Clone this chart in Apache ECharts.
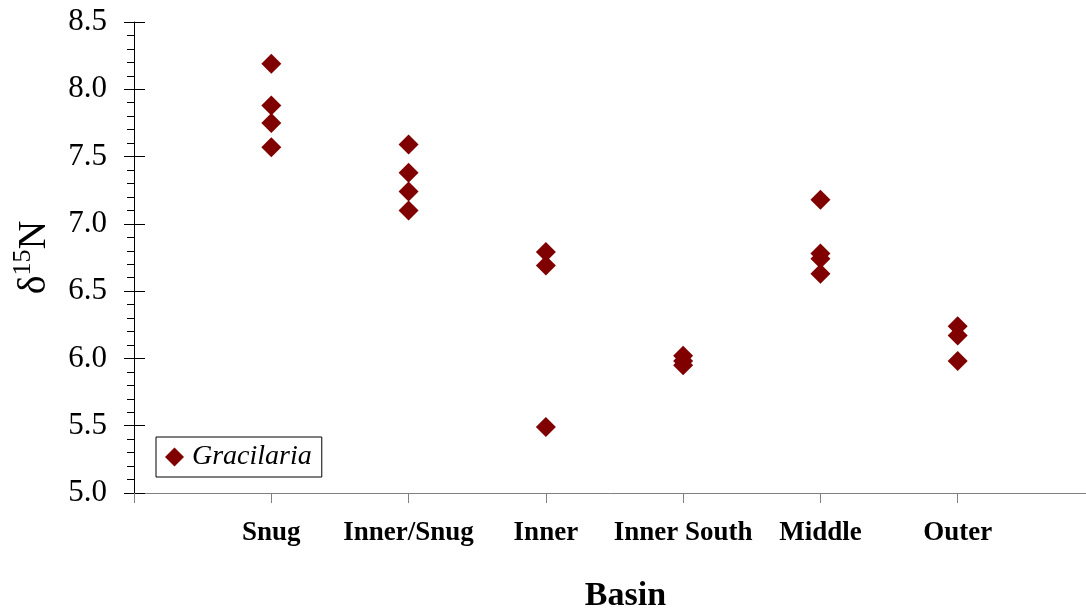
<!DOCTYPE html>
<html>
<head>
<meta charset="utf-8">
<title>d15N by basin</title>
<script src="https://cdn.jsdelivr.net/npm/echarts@6/dist/echarts.min.js"></script>
<style>
  html, body { margin: 0; padding: 0; background: #fff; }
  #main { width: 1086px; height: 612px; }
</style>
</head>
<body>
<div id="main"></div>
<script>
// basins on the x axis (positions 1..6)
var basins = ['Snug', 'Inner/Snug', 'Inner', 'Inner South', 'Middle', 'Outer'];
// d15N values read per basin
var snug = [8.19, 7.88, 7.75, 7.57];
var innerSnug = [7.59, 7.38, 7.24, 7.10];
var inner = [6.79, 6.69, 5.49];
var innerSouth = [6.02, 5.98, 5.95];
var middle = [7.18, 6.78, 6.74, 6.63];
var outer = [6.24, 6.17, 5.98];

var groups = [snug, innerSnug, inner, innerSouth, middle, outer];
var points = [];
for (var i = 0; i < groups.length; i++) {
    for (var j = 0; j < groups[i].length; j++) {
        points.push([i + 1, groups[i][j]]);
    }
}

var serif = 'Liberation Serif';
var myChart = echarts.init(document.getElementById('main'));
var option = {
    animation: false,
    grid: { left: 134, top: 22, height: 471, width: 961, outerBoundsMode: 'none', containLabel: false },
    legend: {
        left: 156, top: 437,
        width: 169, height: 43,
        orient: 'vertical',
        borderColor: '#000', borderWidth: 1,
        padding: [6, 10, 6, 9],
        itemWidth: 19, itemHeight: 19, itemGap: 0,
        textStyle: { fontFamily: serif, fontSize: 28, fontStyle: 'italic', color: '#000', padding: [0, 0, 0, 3] },
        data: [{ name: 'Gracilaria', icon: 'diamond' }]
    },
    xAxis: {
        type: 'value',
        min: 0, max: 7, interval: 1,
        name: 'Basin',
        nameLocation: 'middle',
        nameGap: 86,
        nameTextStyle: { fontFamily: serif, fontSize: 34, fontWeight: 'bold', color: '#000', padding: [0, 0, 0, 22] },
        splitLine: { show: false },
        axisLine: { lineStyle: { color: '#808080', width: 1 } },
        axisTick: { length: 10, lineStyle: { color: '#808080' } },
        axisLabel: {
            margin: 27,
            fontFamily: serif, fontSize: 27, fontWeight: 'bold', color: '#000',
            formatter: function (v) { return basins[v - 1] || ''; }
        }
    },
    yAxis: [{
        type: 'value',
        min: 5.0, max: 8.5, interval: 0.5,
        name: '{a|δ}{s|15}{a|N}',
        nameLocation: 'middle',
        nameRotate: 90,
        nameGap: 80,
        nameTextStyle: {
            color: '#000',
            rich: {
                a: { fontFamily: serif, fontSize: 40, color: '#000', lineHeight: 44, verticalAlign: 'bottom' },
                s: { fontFamily: serif, fontSize: 26, color: '#000', lineHeight: 44, verticalAlign: 'top' }
            }
        },
        splitLine: { show: false },
        axisLine: { show: true, lineStyle: { color: '#000', width: 1 } },
        axisTick: { show: true, length: 10, lineStyle: { color: '#000' } },
        minorTick: { show: true, splitNumber: 5, length: 7, lineStyle: { color: '#000' } },
        axisLabel: {
            margin: 27,
            fontFamily: serif, fontSize: 31, color: '#000',
            formatter: function (v) { return v.toFixed(1); }
        }
    }, {
        type: 'value',
        position: 'left',
        min: 5.0, max: 8.5, interval: 0.5,
        splitLine: { show: false },
        axisLine: { show: false },
        axisTick: { show: true, inside: true, length: 11, lineStyle: { color: '#000' } },
        axisLabel: { show: false }
    }],
    series: [{
        name: 'Gracilaria',
        type: 'scatter',
        symbol: 'diamond',
        symbolSize: 20,
        itemStyle: { color: '#800000', opacity: 1 },
        data: points
    }]
};
myChart.setOption(option);
</script>
</body>
</html>
